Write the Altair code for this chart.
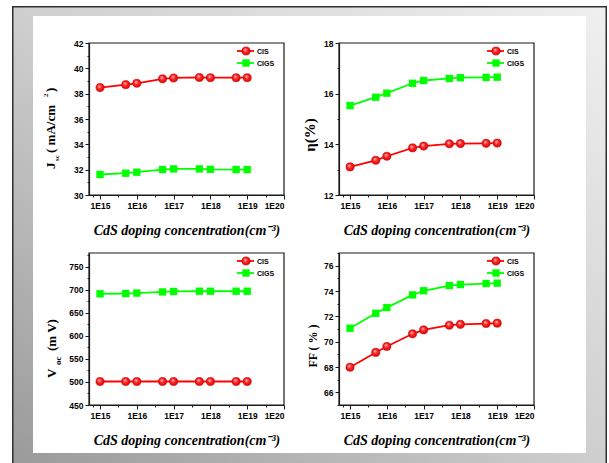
import altair as alt
import pandas as pd

# ---------------- data ----------------
doping = [1e15, 5e15, 1e16, 5e16, 1e17, 5e17, 1e18, 5e18, 1e19]
series = ["CIS", "CIGS"]
jsc_cis = [38.48, 38.71, 38.82, 39.17, 39.24, 39.28, 39.26, 39.26, 39.26]
jsc_cigs = [31.62, 31.72, 31.80, 32.01, 32.06, 32.06, 32.03, 32.01, 32.01]
eff_cis = [13.11, 13.37, 13.53, 13.86, 13.93, 14.02, 14.03, 14.04, 14.05]
eff_cigs = [15.53, 15.86, 16.02, 16.41, 16.52, 16.60, 16.63, 16.64, 16.65]
voc_cis = [501, 501, 501, 501, 501, 501, 501, 501, 501]
voc_cigs = [691.5, 692.0, 693.0, 695.5, 696.5, 697.0, 697.0, 697.0, 697.0]
ff_cis = [67.98, 69.15, 69.62, 70.62, 70.93, 71.30, 71.37, 71.43, 71.46]
ff_cigs = [71.06, 72.24, 72.69, 73.69, 74.02, 74.43, 74.51, 74.59, 74.62]
x_major = [1e15, 1e16, 1e17, 1e18, 1e19, 1e20]
x_minor = [10 ** 14.8, 10 ** 15.5, 10 ** 16.5, 10 ** 17.5, 10 ** 18.5, 10 ** 19.5]
x_title = "CdS doping concentration(cm⁻³)"

W, H = 195, 152
RED, GREEN = "#ff0000", "#00ff00"
SERIF = "Liberation Serif"
SANS = "Liberation Sans"

one = alt.Data(values=[{}])

circle_fill = alt.Gradient(
    gradient="radial",
    stops=[alt.GradientStop(color="#ffd0d0", offset=0),
           alt.GradientStop(color="#ff2a2a", offset=0.45),
           alt.GradientStop(color="#d80000", offset=1)],
    x1=0.38, y1=0.32, r1=0, x2=0.5, y2=0.5, r2=0.55,
)


def xenc():
    is_major = "abs(log(datum.value)/LN10 - round(log(datum.value)/LN10)) < 0.01"
    return alt.X(
        "x:Q",
        scale=alt.Scale(type="log", domain=[10 ** 14.7, 1e20], nice=False),
        axis=alt.Axis(
            values=sorted(x_major + x_minor),
            labelExpr=f"{is_major} ? '1E' + round(log(datum.value)/LN10) : ''",
            tickSize={"condition": {"test": is_major, "value": 4}, "value": 2},
            title=x_title,
            titlePadding=14,
            grid=False,
            zindex=2,
        ),
    )


def yenc(dom, values, step):
    test = f"abs(datum.value % {step}) < 0.001"
    return alt.Y(
        "y:Q",
        scale=alt.Scale(domain=dom, nice=False, zero=False),
        axis=alt.Axis(
            values=values,
            labelExpr=f"{test} ? datum.label : ''",
            tickSize={"condition": {"test": test, "value": 4}, "value": 2},
            title=None,
            grid=False,
            zindex=2,
        ),
    )


def txt(t, x, y, size, angle=270, font=SERIF, weight="bold", style="normal", align="left", color="black"):
    return alt.Chart(one).mark_text(
        text=t, font=font, fontSize=size, fontWeight=weight, fontStyle=style,
        angle=angle, align=align, baseline="alphabetic", color=color,
    ).encode(x=alt.value(x), y=alt.value(y))


def legend_layers():
    layers = []
    for i, (s, col) in enumerate(zip(series, [RED, GREEN])):
        yy = 8 + 12 * i
        layers.append(alt.Chart(one).mark_rule(color=col, strokeWidth=1.8).encode(
            x=alt.value(148), x2=alt.value(165), y=alt.value(yy)))
        if s == "CIS":
            layers.append(alt.Chart(one).mark_point(
                shape="circle", filled=True, fill=circle_fill, stroke="#c80000",
                strokeWidth=0.6, size=66, opacity=1).encode(x=alt.value(157), y=alt.value(yy)))
        else:
            layers.append(alt.Chart(one).mark_point(
                shape="square", filled=True, color=GREEN, size=54, opacity=1).encode(
                x=alt.value(157), y=alt.value(yy)))
        layers.append(alt.Chart(one).mark_text(
            text=s, font=SANS, fontSize=7, fontWeight="bold", align="left",
            baseline="middle", color="black").encode(x=alt.value(168), y=alt.value(yy + 0.5)))
    return layers


def panel(cis, cigs, dom, values, step, title_layers, background=False):
    df = pd.DataFrame({
        "x": doping + doping,
        "y": cis + cigs,
        "s": ["CIS"] * len(doping) + ["CIGS"] * len(doping),
    })
    X = xenc()
    Y = yenc(dom, values, step)
    base = alt.Chart(df)
    lines = base.mark_line(strokeWidth=1.8).encode(
        x=X, y=Y,
        color=alt.Color("s:N", scale=alt.Scale(domain=series, range=[RED, GREEN]), legend=None),
    )
    pts_cis = base.transform_filter("datum.s == 'CIS'").mark_point(
        shape="circle", filled=True, fill=circle_fill, stroke="#c80000",
        strokeWidth=0.6, size=66, opacity=1).encode(x=X, y=Y)
    pts_cigs = base.transform_filter("datum.s == 'CIGS'").mark_point(
        shape="square", filled=True, color=GREEN, size=54, opacity=1).encode(x=X, y=Y)
    frame = alt.Chart(one).mark_rect(filled=False, stroke="#1a1a1a", strokeWidth=1.2).encode(
        x=alt.value(0), x2=alt.value(W), y=alt.value(0), y2=alt.value(H))
    layers = []
    if background:
        grad = alt.Gradient(
            gradient="linear",
            stops=[alt.GradientStop(color="#f0f0f0", offset=0),
                   alt.GradientStop(color="#cfcfcf", offset=0.5),
                   alt.GradientStop(color="#9a9a9a", offset=1)],
            x1=1, y1=0, x2=0, y2=1,
        )
        layers.append(alt.Chart(one).mark_rect(fill=grad, stroke=None).encode(
            x=alt.value(-77), x2=alt.value(518), y=alt.value(-37), y2=alt.value(420)))
        for (a, b, c, d) in [(-76.25, -76.25, -37, 420), (-77, 518, -36.25, -36.25), (517.25, 517.25, -37, 420)]:
            layers.append(alt.Chart(one).mark_rule(color="#303030", strokeWidth=1.5).encode(
                x=alt.value(a), x2=alt.value(b), y=alt.value(c), y2=alt.value(d)))
        layers.append(alt.Chart(one).mark_rect(fill="white").encode(
            x=alt.value(-56), x2=alt.value(497), y=alt.value(-27), y2=alt.value(410)))
    layers += [frame, lines, pts_cis, pts_cigs] + legend_layers() + title_layers
    return alt.layer(*layers).properties(width=W, height=H)


jsc_title = [
    txt("J", -34, 126, 13),
    txt("sc", -30, 118, 7),
    txt("( mA/cm", -34, 110, 13),
    txt("2", -41, 54, 7),
    txt(" )", -34, 49, 13),
]
eff_title = [txt("η(%)", -24, 92, 15, align="center")]
voc_title = [
    txt("V", -33, 125, 13),
    txt("oc", -28, 112, 9),
    txt(" (m V)", -33, 98, 13),
]
ff_title = [txt("FF ( % )", -22, 93, 12, align="center")]

p1 = panel(jsc_cis, jsc_cigs, [30, 42], list(range(30, 43)), 2, jsc_title, background=True)
p2 = panel(eff_cis, eff_cigs, [12, 18], list(range(12, 19)), 2, eff_title)
p3 = panel(voc_cis, voc_cigs, [450, 780], list(range(450, 781, 25)), 50, voc_title)
p4 = panel(ff_cis, ff_cigs, [65, 77], list(range(65, 78)), 2, ff_title)

chart = alt.concat(p1, p2, p3, p4, columns=2, spacing={"row": 58, "column": 55}, bounds="flush").properties(
    padding={"left": 11, "top": 5, "right": 0, "bottom": 0},
).configure(background="white").configure_view(stroke=None).configure_axis(
    domainColor="#1a1a1a",
    domainWidth=1.2,
    tickColor="#1a1a1a",
    tickWidth=1,
    labelFont=SANS,
    labelFontWeight="bold",
    labelFontSize=8.5,
    labelColor="black",
    labelPadding=2,
    titleFont=SERIF,
    titleFontWeight="bold",
    titleFontStyle="italic",
    titleFontSize=14,
    titleColor="black",
)

chart.save("out.html", embed_options={"renderer": "svg", "actions": False})
